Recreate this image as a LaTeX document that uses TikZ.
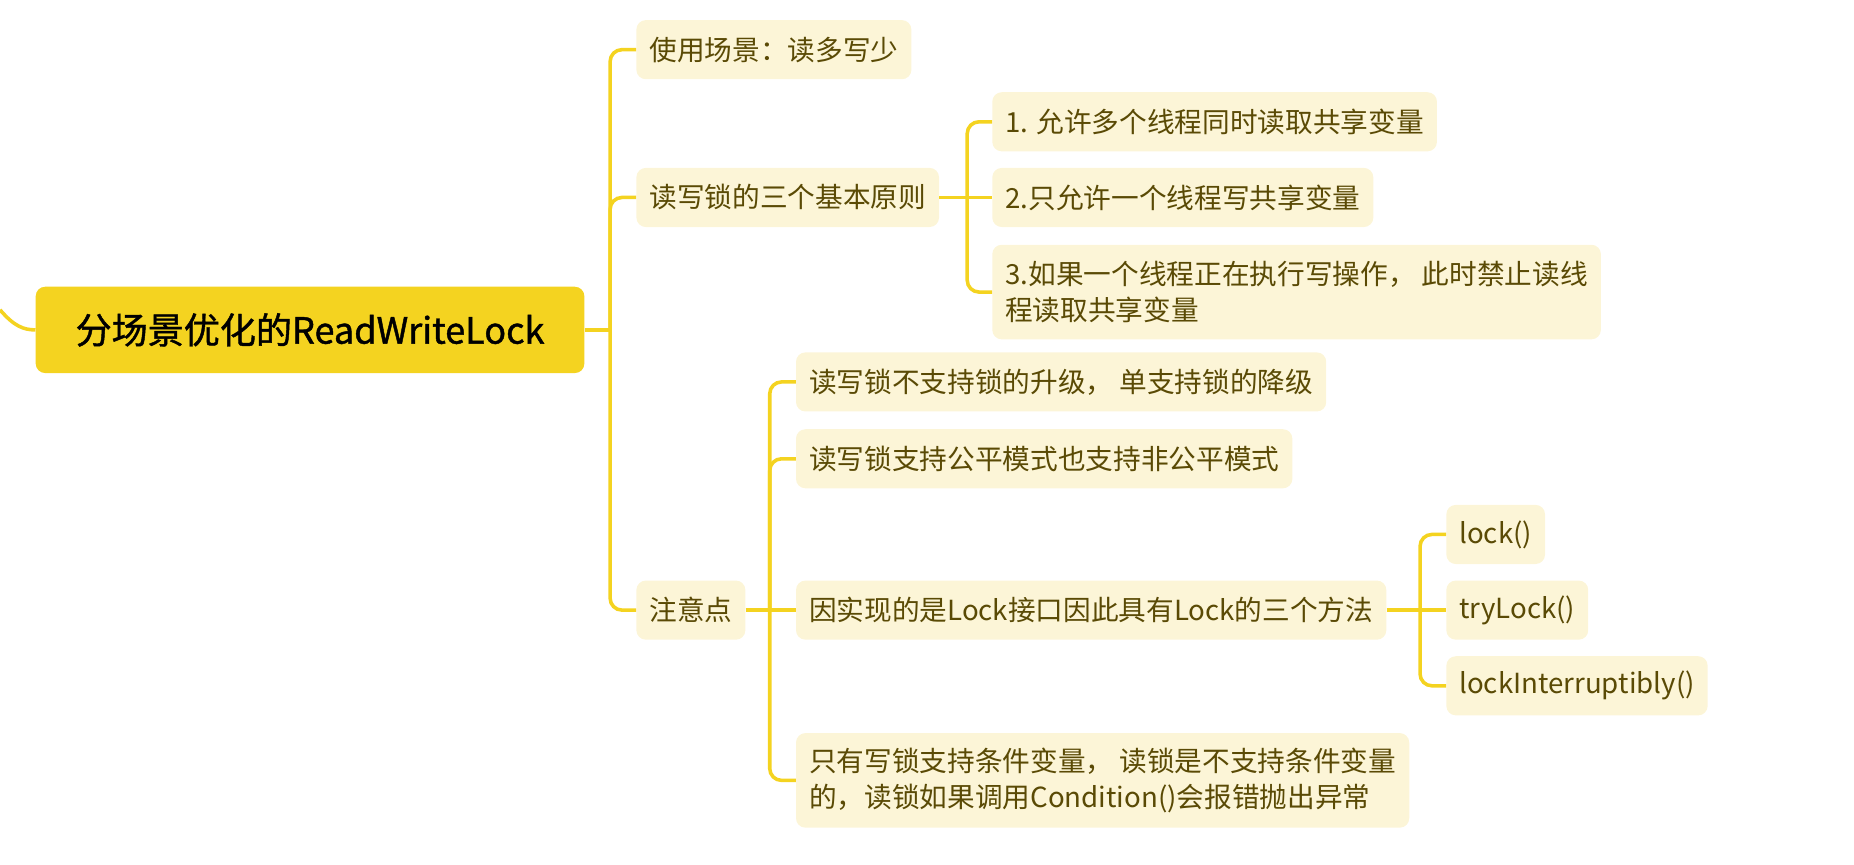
\documentclass[tikz,border=0pt]{standalone}
\usepackage{fontspec}
\setmainfont{Noto Sans CJK SC}
\newfontfamily\rootfont{Noto Sans CJK SC}[FakeBold=1.2]
\definecolor{topic}{HTML}{F4D320}
\definecolor{leafbg}{HTML}{FCF5D7}
\definecolor{leaftext}{HTML}{5A4A05}
\tikzset{
  rootbox/.style={fill=topic, rounded corners=8, minimum height=73, minimum width=464, text=black, font=\rootfont\fontsize{30.5}{34}\selectfont, anchor=west},
  leafbox/.style={fill=leafbg, rounded corners=8, minimum height=50, inner xsep=11, text=leaftext, font=\fontsize{23.4}{30}\selectfont, anchor=west, align=left},
  conn/.style={draw=topic, line width=3, rounded corners=10},
}
\begin{document}
\begin{tikzpicture}[x=1pt, y=-1pt]
\useasboundingbox (0,0) rectangle (1568,731);
\node[rootbox] (lockRoot) at (30,279) {分场景优化的ReadWriteLock};
\coordinate (offLeft) at (0,262);
\draw[conn] (offLeft) .. controls (12,276) and (20,279) .. (lockRoot.west);
% first level
\node[leafbox] (useCase) at (538,42) {使用场景：读多写少};
\node[leafbox] (rules) at (538,167) {读写锁的三个基本原则};
\node[leafbox] (notes) at (538,516) {注意点};
\coordinate (trunk) at (516,279);
\draw[conn] (lockRoot.east) -- (trunk);
\draw[conn] (trunk) |- (useCase.west);
\draw[conn] (trunk) |- (rules.west);
\draw[conn] (trunk) |- (notes.west);
% rules
\node[leafbox] (ruleOne) at (839,103) {1. 允许多个线程同时读取共享变量};
\node[leafbox] (ruleTwo) at (839,167) {2.只允许一个线程写共享变量};
\node[leafbox, minimum height=80] (ruleThree) at (839,247) {3.如果一个线程正在执行写操作， 此时禁止读线\\程读取共享变量};
\coordinate (rulesJoint) at (818,167);
\draw[conn] (rules.east) -- (ruleTwo.west);
\draw[conn] (rulesJoint) |- (ruleOne.west);
\draw[conn] (rulesJoint) |- (ruleThree.west);
% notes
\node[leafbox] (noteOne) at (673,323) {读写锁不支持锁的升级， 单支持锁的降级};
\node[leafbox] (noteTwo) at (673,388) {读写锁支持公平模式也支持非公平模式};
\node[leafbox] (noteThree) at (673,516) {因实现的是Lock接口因此具有Lock的三个方法};
\node[leafbox, minimum height=80] (noteFour) at (673,660) {只有写锁支持条件变量， 读锁是不支持条件变量\\的，读锁如果调用Condition()会报错抛出异常};
\coordinate (notesJoint) at (651,516);
\draw[conn] (notes.east) -- (noteThree.west);
\draw[conn] (notesJoint) |- (noteOne.west);
\draw[conn] (notesJoint) |- (noteTwo.west);
\draw[conn] (notesJoint) |- (noteFour.west);
% lock methods
\node[leafbox] (lockCall) at (1223,452) {lock()};
\node[leafbox] (tryCall) at (1223,516) {tryLock()};
\node[leafbox] (intrCall) at (1223,580) {lockInterruptibly()};
\coordinate (lockJoint) at (1201,516);
\draw[conn] (noteThree.east) -- (tryCall.west);
\draw[conn] (lockJoint) |- (lockCall.west);
\draw[conn] (lockJoint) |- (intrCall.west);
\end{tikzpicture}
\end{document}
